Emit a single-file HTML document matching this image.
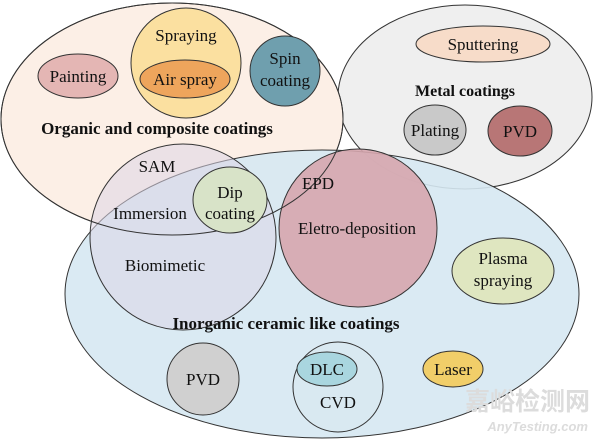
<!DOCTYPE html>
<html><head><meta charset="utf-8"><style>
html,body{margin:0;padding:0;background:#fff;}
svg{display:block;}
svg text{font-family:"Liberation Serif","Times New Roman","DejaVu Serif","Noto Serif CJK SC",serif;font-size:17px;fill:#111;text-anchor:middle;}
svg text.b{font-weight:bold;}
</style></head><body>
<svg width="600" height="443" viewBox="0 0 600 443" xmlns="http://www.w3.org/2000/svg">
<g stroke="#333" stroke-width="1">
<ellipse cx="465" cy="97" rx="127" ry="92" fill="#efefef"/>
<ellipse cx="172" cy="119" rx="171" ry="116" fill="#fcefe6"/>
<ellipse cx="322" cy="294" rx="257" ry="144" fill="#d6e8f2" fill-opacity="0.9"/>
<circle cx="183" cy="237" r="93" fill="#dcd6e6" fill-opacity="0.55"/>
<circle cx="358" cy="228" r="79" fill="#d6a6ae" fill-opacity="0.9"/>
<ellipse cx="172" cy="119" rx="171" ry="116" fill="none"/>
<ellipse cx="230" cy="200" rx="37" ry="33" fill="#d8e3c8"/>
<circle cx="186" cy="63" r="55" fill="#fbe0a0"/>
<ellipse cx="185" cy="79" rx="45" ry="19" fill="#eea55c"/>
<ellipse cx="78" cy="76" rx="40" ry="22" fill="#e4b6b4"/>
<circle cx="285" cy="71" r="35" fill="#6f9fae"/>
<ellipse cx="483" cy="44" rx="67" ry="18" fill="#f7dcc9"/>
<ellipse cx="435" cy="130" rx="31" ry="25" fill="#c9c9c9"/>
<ellipse cx="520" cy="131" rx="32" ry="25" fill="#b87676"/>
<ellipse cx="503" cy="271" rx="51" ry="33" fill="#dfe6c0"/>
<circle cx="203" cy="379" r="36" fill="#d0d0d0"/>
<circle cx="338" cy="387" r="45" fill="#d9e9f1"/>
<ellipse cx="327" cy="369" rx="30" ry="17" fill="#a9d6df"/>
<ellipse cx="453" cy="369" rx="30" ry="18" fill="#f1ce69"/>
</g>
<text x="186" y="41">Spraying</text>
<text x="185" y="85">Air spray</text>
<text x="78" y="82">Painting</text>
<text x="285" y="64">Spin</text>
<text x="285" y="86">coating</text>
<text x="483" y="50">Sputtering</text>
<text x="465" y="96" class="b" style="font-size:16px">Metal coatings</text>
<text x="435" y="136">Plating</text>
<text x="520" y="137">PVD</text>
<text x="157" y="134" class="b">Organic and composite coatings</text>
<text x="157" y="172">SAM</text>
<text x="230" y="198">Dip</text>
<text x="230" y="219">coating</text>
<text x="150" y="219">Immersion</text>
<text x="318" y="189">EPD</text>
<text x="357" y="234">Eletro-deposition</text>
<text x="165" y="271">Biomimetic</text>
<text x="503" y="264">Plasma</text>
<text x="503" y="286">spraying</text>
<text x="286" y="329" class="b">Inorganic ceramic like coatings</text>
<text x="203" y="385">PVD</text>
<text x="327" y="375">DLC</text>
<text x="338" y="408">CVD</text>
<text x="453" y="375">Laser</text>
<text x="590" y="410" style="font-family:'Noto Sans CJK SC',sans-serif;font-size:25px;fill:#dcdcdc;font-weight:bold;text-anchor:end">嘉峪检测网</text>
<text x="588" y="431" style="font-family:'Liberation Sans',sans-serif;font-size:13px;fill:#dcdcdc;font-style:italic;font-weight:bold;text-anchor:end">AnyTesting.com</text>
</svg>
</body></html>
